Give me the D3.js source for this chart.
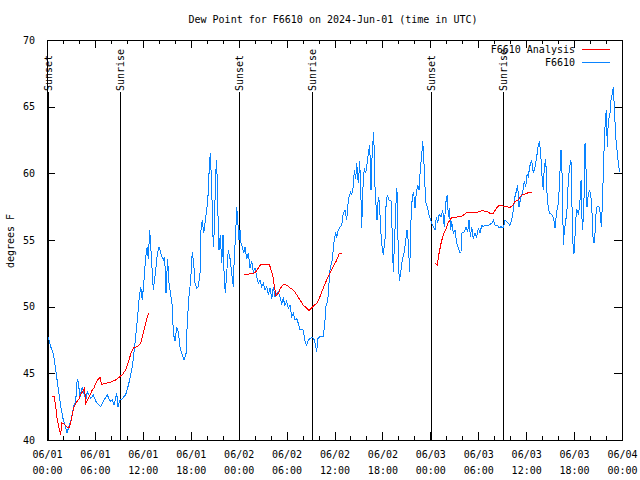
<!DOCTYPE html>
<html>
<head>
<meta charset="utf-8">
<script src="https://cdn.jsdelivr.net/npm/d3@7/dist/d3.min.js"></script>
<style>
  html, body { margin: 0; padding: 0; background: #fff; }
  svg { display: block; }
  text { font-family: "DejaVu Sans Mono", monospace; font-size: 10px; fill: #000; }
</style>
</head>
<body>
<svg id="chart" width="640" height="480"></svg>
<script>
// ---- data (hours since 2024-06-01 00:00 UTC, dew point °F) ----
const title = "Dew Point for F6610 on 2024-Jun-01 (time in UTC)";
const yLabel = "degrees F";
const seriesNames = ["F6610 Analysis", "F6610"];

const xTickHours = [0, 6, 12, 18, 24, 30, 36, 42, 48, 54, 60, 66, 72];
const xTickDates = ["06/01","06/01","06/01","06/01","06/02","06/02","06/02","06/02","06/03","06/03","06/03","06/03","06/04"];
const xTickTimes = ["00:00","06:00","12:00","18:00","00:00","06:00","12:00","18:00","00:00","06:00","12:00","18:00","00:00"];
const yTicks = [40, 45, 50, 55, 60, 65, 70];

const sunEvents = [
  ["Sunset", 0.13], ["Sunrise", 9.25], ["Sunset", 24.15],
  ["Sunrise", 33.2], ["Sunset", 48.1], ["Sunrise", 57.2]
];

const obs = [
[0.13,47.75],[0.46,47.0],[0.79,46.5],[1.09,45.25],[1.38,44.0],[1.72,42.5],[2.04,41.5],[2.34,41.0],[2.47,40.5],[2.75,41.0],
[3.04,41.6],[3.38,42.6],[3.59,42.9],[3.79,44.6],[3.92,44.3],[4.13,43.25],[4.42,44.0],[4.63,43.5],[4.85,43.0],[5.05,43.6],
[5.47,43.1],[5.80,43.4],[6.10,42.9],[6.72,42.5],[7.14,43.0],[7.55,43.4],[7.89,42.9],[8.18,43.0],[8.39,42.6],[8.73,43.5],
[8.89,42.5],[9.14,43.0],[9.43,43.1],[9.85,43.4],[10.14,44.0],[10.39,44.6],[10.68,45.5],[10.98,47.0],[11.31,49.0],[11.52,50.5],
[11.73,51.5],[11.93,50.5],[12.15,52.0],[12.36,53.75],[12.56,54.5],[12.68,53.6],[12.86,55.75],[12.99,54.5],[13.19,52.5],[13.31,51.25],
[13.52,52.25],[13.81,53.9],[14.02,54.5],[14.31,53.9],[14.56,53.5],[14.74,53.75],[14.90,51.0],[15.10,53.6],[15.28,51.75],[15.53,50.75],
[15.69,50.0],[15.82,48.0],[16.03,47.4],[16.24,48.5],[16.44,48.1],[16.65,47.0],[16.87,46.5],[17.15,46.0],[17.41,46.5],[17.57,48.9],
[17.78,50.75],[17.99,52.0],[18.19,54.1],[18.37,53.25],[18.53,51.75],[18.75,51.4],[18.95,51.5],[19.16,52.5],[19.28,55.75],[19.45,56.5],
[19.62,55.5],[19.78,56.25],[20.00,57.25],[20.20,58.6],[20.32,60.5],[20.45,61.5],[20.57,59.75],[20.70,57.25],[20.82,54.5],[20.95,55.75],
[21.12,60.0],[21.25,61.0],[21.38,57.5],[21.54,54.25],[21.70,55.4],[21.88,53.25],[22.04,55.4],[22.20,52.0],[22.33,51.0],[22.50,52.5],
[22.70,54.25],[22.92,53.6],[23.13,52.5],[23.33,51.5],[23.45,53.75],[23.63,55.5],[23.75,57.5],[23.88,56.5],[24.04,55.0],[24.17,55.75],
[24.29,54.75],[24.46,54.5],[24.63,54.0],[24.79,54.5],[25.01,53.6],[25.21,54.0],[25.42,52.9],[25.63,53.4],[25.83,52.6],[26.05,52.9],
[26.26,52.25],[26.46,51.75],[26.67,52.0],[26.88,51.5],[27.09,51.75],[27.30,51.25],[27.51,51.5],[27.71,50.9],[27.92,51.4],[28.14,50.6],
[28.34,51.5],[28.55,50.75],[28.76,51.0],[28.96,51.1],[29.18,50.75],[29.39,50.25],[29.59,50.6],[29.80,50.1],[30.01,50.4],[30.22,49.9],
[30.43,50.1],[30.64,49.25],[30.84,49.5],[31.05,49.0],[31.27,49.1],[31.47,48.75],[31.68,48.25],[31.89,48.3],[32.09,48.25],[32.31,47.4],
[32.52,47.1],[32.72,47.5],[32.93,47.6],[33.22,47.7],[33.47,47.5],[33.65,47.0],[33.77,46.6],[33.90,47.6],[34.18,47.75],[34.60,47.75],
[34.81,49.0],[34.94,50.1],[35.15,50.4],[35.31,51.75],[35.47,53.0],[35.65,53.25],[35.85,54.25],[35.98,55.1],[36.15,55.5],[36.28,55.25],
[36.48,55.75],[36.69,56.0],[36.90,56.1],[37.10,57.0],[37.31,57.25],[37.53,56.5],[37.65,57.5],[37.82,58.25],[38.03,58.6],[38.16,58.4],
[38.36,59.0],[38.48,60.25],[38.66,59.6],[38.78,60.75],[38.98,59.25],[39.16,60.9],[39.32,58.0],[39.41,55.9],[39.53,58.6],[39.73,60.4],
[39.91,60.0],[40.03,60.5],[40.23,61.5],[40.41,62.1],[40.57,58.75],[40.73,61.75],[40.91,63.1],[41.07,59.0],[41.23,57.25],[41.32,56.5],
[41.49,58.25],[41.61,57.9],[41.82,55.5],[41.99,54.25],[42.11,53.9],[42.32,55.0],[42.45,57.5],[42.61,58.4],[42.82,58.0],[43.07,58.0],
[43.24,55.25],[43.36,52.6],[43.49,54.5],[43.70,57.75],[43.82,58.9],[43.99,54.0],[44.11,51.9],[44.33,52.75],[44.49,53.5],[44.74,54.1],
[44.92,55.0],[45.08,55.75],[45.24,54.9],[45.41,52.6],[45.58,56.5],[45.74,58.25],[45.91,58.6],[46.08,57.4],[46.24,58.5],[46.42,59.1],
[46.58,58.75],[46.74,60.25],[46.92,61.4],[47.05,62.4],[47.17,61.25],[47.33,59.0],[47.46,57.75],[47.62,57.5],[47.83,56.9],[47.99,56.6],
[48.17,56.25],[48.37,56.0],[48.59,55.75],[48.75,56.75],[48.92,56.25],[49.09,56.9],[49.34,56.75],[49.55,57.25],[49.75,56.0],[49.92,57.75],
[50.13,58.4],[50.25,56.75],[50.38,57.4],[50.55,55.75],[50.67,56.4],[50.88,55.5],[51.09,55.75],[51.30,54.75],[51.50,54.4],[51.68,54.1],
[51.84,54.1],[51.93,55.5],[52.25,55.6],[52.47,56.0],[52.68,55.6],[52.85,56.5],[53.01,55.25],[53.18,56.0],[53.38,55.1],[53.59,55.5],
[53.80,55.25],[54.01,55.9],[54.22,55.5],[54.43,56.1],[54.63,56.0],[54.85,56.1],[55.26,56.1],[55.69,56.25],[55.89,56.5],[56.10,56.1],
[56.44,56.1],[56.64,55.9],[56.85,56.0],[57.01,55.9],[57.19,56.0],[57.35,56.5],[57.56,56.4],[57.76,56.25],[57.97,56.1],[58.19,56.5],
[58.39,57.25],[58.60,58.25],[58.81,58.75],[58.94,59.1],[59.10,57.5],[59.27,58.0],[59.44,58.4],[59.61,58.75],[59.77,59.4],[59.94,59.0],
[60.11,59.9],[60.27,59.75],[60.44,60.5],[60.69,61.0],[60.89,60.0],[61.11,60.5],[61.32,61.25],[61.52,62.1],[61.65,62.4],[61.82,61.5],
[61.95,60.0],[62.15,58.75],[62.27,60.5],[62.45,61.1],[62.61,58.5],[62.77,57.4],[62.95,57.0],[63.20,56.9],[63.45,56.6],[63.61,55.9],
[63.82,57.1],[64.02,57.75],[64.15,58.9],[64.28,60.75],[64.36,61.75],[64.53,59.5],[64.65,54.6],[64.78,55.75],[64.95,56.4],[65.11,57.25],
[65.28,59.5],[65.45,60.5],[65.61,61.0],[65.78,56.5],[65.90,54.0],[66.03,54.1],[66.20,56.5],[66.36,57.25],[66.53,57.0],[66.70,57.5],
[66.87,59.5],[67.03,55.75],[67.21,57.0],[67.37,62.25],[67.50,60.25],[67.62,57.5],[67.75,58.25],[67.91,58.75],[68.09,58.4],[68.21,57.5],
[68.37,55.25],[68.50,54.75],[68.62,55.5],[68.75,57.0],[68.87,57.5],[69.12,57.5],[69.29,57.0],[69.41,56.0],[69.53,57.5],[69.66,60.0],
[69.78,62.25],[69.91,64.0],[70.04,64.75],[70.16,62.0],[70.29,64.0],[70.46,64.25],[70.62,65.5],[70.79,66.0],[70.91,66.5],[71.04,65.0],
[71.21,62.75],[71.38,61.75],[71.54,60.75],[71.71,60.1]
];

const analysisDay1 = [
[0.66,43.3],[0.88,43.3],[1.09,42.5],[1.29,41.5],[1.50,40.9],[1.72,40.4],[1.84,41.3],[2.13,41.2],[2.47,41.0],[2.75,40.9],
[2.92,41.2],[3.17,41.9],[3.38,42.5],[3.59,42.75],[3.79,42.9],[4.01,43.1],[4.22,43.4],[4.42,43.6],[4.70,43.9],[4.85,42.75],
[5.05,43.0],[5.26,43.25],[5.47,43.5],[5.67,43.75],[5.89,43.9],[6.10,44.25],[6.30,44.5],[6.64,44.7],[6.85,44.15],[7.05,44.2],
[7.35,44.25],[7.76,44.3],[8.18,44.4],[8.60,44.5],[9.02,44.7],[9.43,44.9],[9.85,45.25],[10.27,46.0],[10.56,46.6],[10.81,46.9],
[11.31,47.0],[11.73,47.25],[11.93,47.75],[12.15,48.25],[12.36,48.75],[12.56,49.25],[12.77,49.5]
];
const analysisDay2 = [
[24.67,52.4],[25.29,52.45],[25.83,52.5],[26.13,52.6],[26.46,52.9],[26.80,53.2],[27.30,53.2],[27.84,53.2],[28.05,52.75],[28.26,52.4],
[28.43,51.7],[28.68,50.8],[28.96,51.0],[29.18,51.3],[29.46,51.6],[29.68,51.7],[30.05,51.6],[30.43,51.4],[30.84,51.25],[31.27,50.9],
[31.68,50.5],[32.09,50.1],[32.52,49.9],[32.81,49.7],[33.27,50.0],[33.85,50.3],[34.18,50.75],[34.60,51.4],[35.02,52.0],[35.44,52.5],
[35.85,53.0],[36.28,53.5],[36.60,54.0],[36.90,54.0]
];
const analysisDay3 = [
[48.59,53.25],[48.87,53.1],[49.09,54.0],[49.34,54.75],[49.62,55.4],[49.92,55.75],[50.18,56.25],[50.46,56.5],[50.67,56.7],[51.09,56.7],
[51.50,56.75],[51.93,56.8],[52.25,56.9],[52.55,57.1],[53.18,57.1],[54.01,57.1],[54.43,57.2],[55.06,57.15],[55.47,57.0],[55.89,57.0],
[56.19,57.3],[56.51,57.55],[56.72,57.6],[57.14,57.55],[57.56,57.5],[57.97,57.45],[58.26,57.55],[58.60,57.9],[59.01,58.0],[59.22,58.2],
[59.52,58.4],[59.85,58.45],[60.27,58.55],[60.77,58.6]
];

// ---- drawing ----
const colors = { analysis: "#ff0000", obs: "#0a84ff" };
const L = 47, R = 622, T = 40, B = 440;
const svg = d3.select("#chart");

const x = d3.scaleLinear().domain([0, 72]).range([L, R]);
const y = d3.scaleLinear().domain([40, 70]).range([B, T]);

// title
svg.append("text").attr("x", 333).attr("y", 23).attr("text-anchor", "middle").text(title);
// y label
svg.append("text").attr("transform", "translate(14,241) rotate(-90)").attr("text-anchor", "middle").text(yLabel);

const minorHours = d3.range(0, 73, 2).filter(h => h % 6 !== 0);

// bottom axis
const gB = svg.append("g").attr("transform", `translate(0,${B})`)
  .call(d3.axisBottom(x).tickValues(xTickHours).tickSizeInner(-8).tickSizeOuter(0).tickPadding(11).tickFormat(""));
gB.selectAll(".tick text").each(function(d, i) {
  const t = d3.select(this);
  t.append("tspan").attr("x", 0).attr("dy", "0.71em").text(xTickDates[i]);
  t.append("tspan").attr("x", 0).attr("dy", "1.55em").text(xTickTimes[i]);
});
svg.append("g").attr("transform", `translate(0,${B})`)
  .call(d3.axisBottom(x).tickValues(minorHours).tickSizeInner(-4).tickSizeOuter(0).tickFormat(""));
// top axis (mirror)
svg.append("g").attr("transform", `translate(0,${T})`)
  .call(d3.axisTop(x).tickValues(xTickHours).tickSizeInner(-8).tickSizeOuter(0).tickFormat(""));
svg.append("g").attr("transform", `translate(0,${T})`)
  .call(d3.axisTop(x).tickValues(minorHours).tickSizeInner(-4).tickSizeOuter(0).tickFormat(""));
// left axis
svg.append("g").attr("transform", `translate(${L},0)`)
  .call(d3.axisLeft(y).tickValues(yTicks).tickSizeInner(-8).tickSizeOuter(0).tickPadding(12).tickFormat(d3.format("d")));
// right axis (mirror)
svg.append("g").attr("transform", `translate(${R},0)`)
  .call(d3.axisRight(y).tickValues(yTicks).tickSizeInner(-8).tickSizeOuter(0).tickFormat(""));

svg.selectAll(".domain").remove();
svg.selectAll(".tick line").attr("stroke", "#000").attr("shape-rendering", "crispEdges");
svg.selectAll(".tick text").attr("font-family", "DejaVu Sans Mono").attr("font-size", 10).attr("fill", "#000");

// sunrise / sunset markers
sunEvents.forEach(([name, h]) => {
  const px = x(h);
  svg.append("line").attr("x1", px).attr("x2", px).attr("y1", 92).attr("y2", B)
    .attr("stroke", "#000").attr("shape-rendering", "crispEdges");
  svg.append("text").attr("transform", `translate(${px},91) rotate(-90)`)
    .attr("dy", "0.35em").attr("text-anchor", "start").text(name);
});

// lines
const line = d3.line().x(d => x(d[0])).y(d => y(d[1]));
svg.append("path").datum(obs).attr("d", line).attr("fill", "none")
  .attr("stroke", colors.obs).attr("stroke-width", 1).attr("shape-rendering", "crispEdges");
[analysisDay1, analysisDay2, analysisDay3].forEach(seg => {
  svg.append("path").datum(seg).attr("d", line).attr("fill", "none")
    .attr("stroke", colors.analysis).attr("stroke-width", 1).attr("shape-rendering", "crispEdges");
});

// border
svg.append("rect").attr("x", L).attr("y", T).attr("width", R - L).attr("height", B - T)
  .attr("fill", "none").attr("stroke", "#000").attr("shape-rendering", "crispEdges");

// legend
const legend = [[seriesNames[0], colors.analysis, 49], [seriesNames[1], colors.obs, 62]];
legend.forEach(([name, c, ly]) => {
  svg.append("text").attr("x", 575).attr("y", ly).attr("dy", "0.35em").attr("text-anchor", "end").text(name);
  svg.append("line").attr("x1", 582).attr("x2", 610).attr("y1", ly).attr("y2", ly)
    .attr("stroke", c).attr("shape-rendering", "crispEdges");
});
</script>
</body>
</html>
